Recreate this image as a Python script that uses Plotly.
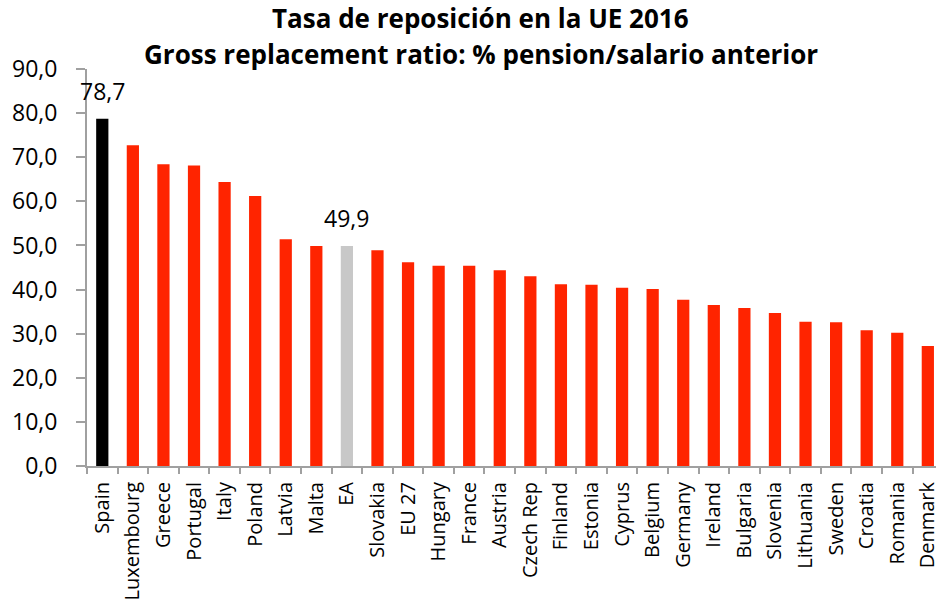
import plotly.graph_objects as go

categories = ["Spain", "Luxembourg", "Greece", "Portugal", "Italy", "Poland", "Latvia", "Malta",
              "EA", "Slovakia", "EU 27", "Hungary", "France", "Austria", "Czech Rep", "Finland",
              "Estonia", "Cyprus", "Belgium", "Germany", "Ireland", "Bulgaria", "Slovenia",
              "Lithuania", "Sweden", "Croatia", "Romania", "Denmark"]
values = [78.7, 72.7, 68.4, 68.1, 64.4, 61.2, 51.4, 49.9,
          49.9, 48.9, 46.2, 45.4, 45.4, 44.4, 43.0, 41.2,
          41.1, 40.4, 40.1, 37.7, 36.5, 35.8, 34.7,
          32.7, 32.6, 30.8, 30.2, 27.2]
labelled = ["Spain", "EA"]
title_lines = ["Tasa de reposición en la UE 2016",
               "Gross replacement ratio: % pension/salario anterior"]

RED = "#FF2400"
colors = []
for c in categories:
    if c == "Spain":
        colors.append("#000000")
    elif c == "EA":
        colors.append("#C8C8C8")
    else:
        colors.append(RED)

fig = go.Figure(go.Bar(x=categories, y=values, marker=dict(color=colors, line=dict(width=0)),
                       width=0.4, hoverinfo="x+y"))

for c, v in zip(categories, values):
    if c in labelled:
        fig.add_annotation(x=c, y=v, text=f"{v:.1f}".replace(".", ","), showarrow=False,
                           yanchor="bottom", yshift=10,
                           font=dict(family="Open Sans", size=23, color="#000000"))

for txt, yy in zip(title_lines, [1.1285, 1.0378]):
    fig.add_annotation(xref="paper", yref="paper", x=0.464, y=yy, xanchor="center", yanchor="middle",
                       text=f"<b>{txt}</b>", showarrow=False,
                       font=dict(family="Open Sans", size=26, color="#000000"))

plot_left = 87
cat_w = 30.72
n_visible = (940 - plot_left) / cat_w

fig.update_layout(
    width=940, height=605,
    margin=dict(l=plot_left, r=0, t=69, b=139),
    paper_bgcolor="white", plot_bgcolor="white",
    separators=",.",
    showlegend=False,
    font=dict(family="Open Sans", size=20, color="#000000"),
    xaxis=dict(range=[-0.5, -0.5 + n_visible], tickangle=-90, tickson="boundaries",
               ticks="outside", ticklen=6, tickcolor="#A0A0A0", tickwidth=2,
               showline=True, linecolor="#A0A0A0", linewidth=2,
               showgrid=False, zeroline=False, ticklabelstandoff=6,
               tickfont=dict(family="Open Sans", size=20, color="#000000")),
    yaxis=dict(range=[0, 90], dtick=10, tickformat=".1f", ticks="outside", ticklen=9,
               tickcolor="#A0A0A0", tickwidth=2, showline=True, linecolor="#A0A0A0", linewidth=2,
               showgrid=False, zeroline=False, ticklabelstandoff=14,
               tickfont=dict(family="Open Sans", size=23, color="#000000")),
)

fig.write_html("out.html", config={"displayModeBar": False},
               post_script="document.body.style.margin='0';")
